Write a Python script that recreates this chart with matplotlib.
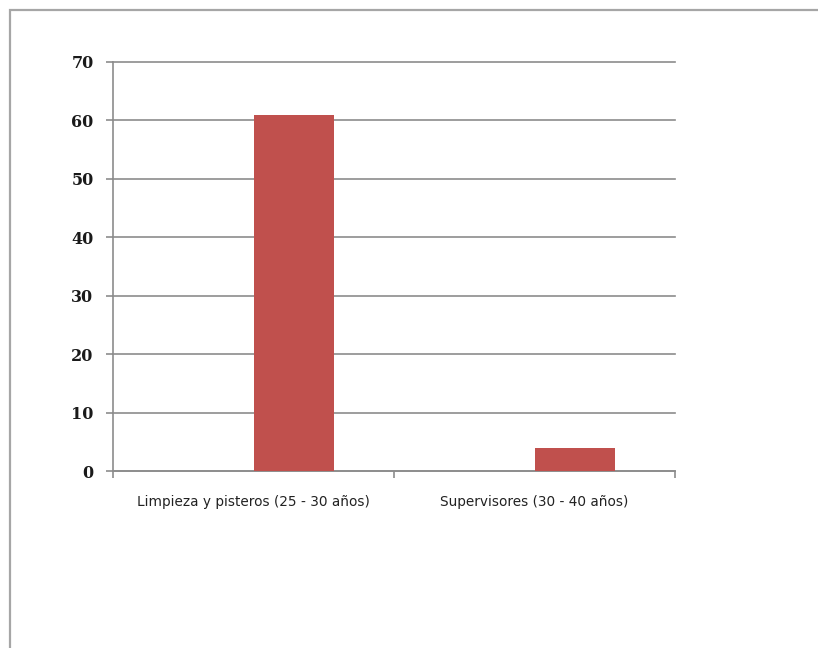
import matplotlib
matplotlib.use("Agg")
import matplotlib.pyplot as plt
from matplotlib.patches import Rectangle

categories = ["Limpieza y pisteros (25 - 30 años)", "Supervisores (30 - 40 años)"]
values = [61, 4]
yticks = [0, 10, 20, 30, 40, 50, 60, 70]

W, H = 818, 648
fig = plt.figure(figsize=(W / 100, H / 100), dpi=100)
fig.patch.set_facecolor("white")

# outer chart border
fig.patches.append(Rectangle((10 / W, -0.1), 1.2, 1.1 - 10 / H, transform=fig.transFigure,
                             fill=False, edgecolor="#a6a6a6", linewidth=1.6))

left, right, top, bottom = 113, 675, 62, 471
ax = fig.add_axes([left / W, 1 - bottom / H, (right - left) / W, (bottom - top) / H])

n_series = 2
gap = 1.5
bw = 1 / (n_series + gap)
xs = [i + bw / 2 for i in range(len(categories))]
ax.bar(xs, values, width=bw, color="#C0504D", zorder=3)

ax.set_xlim(-0.5, len(categories) - 0.5)
ax.set_ylim(0, 70)
ax.set_yticks(yticks)
ax.set_yticklabels([str(v) for v in yticks], fontfamily="DejaVu Serif", fontsize=11.5,
                   fontweight="bold", color="#1a1a1a")
ax.yaxis.grid(True, color="#8c8c8c", linewidth=1.2, zorder=0)
for gl in ax.get_ygridlines():
    gl.set_clip_on(False)
ax.tick_params(axis="y", length=5, width=1.2, color="#8c8c8c", pad=9)

ax.set_xticks([-0.5, 0.5, 1.5], minor=False)
ax.set_xticklabels([])
ax.set_xticks(range(len(categories)), minor=True)
ax.set_xticklabels(categories, minor=True, fontfamily="DejaVu Sans", fontsize=9.8,
                   color="#222222")
ax.tick_params(axis="x", which="major", length=5, width=1.2, color="#8c8c8c", direction="out")
ax.tick_params(axis="x", which="minor", length=0, pad=17)

for s in ["top", "right"]:
    ax.spines[s].set_visible(False)
for s in ["left", "bottom"]:
    ax.spines[s].set_color("#8c8c8c")
    ax.spines[s].set_linewidth(1.2)

fig.savefig("out.png", dpi=100)
